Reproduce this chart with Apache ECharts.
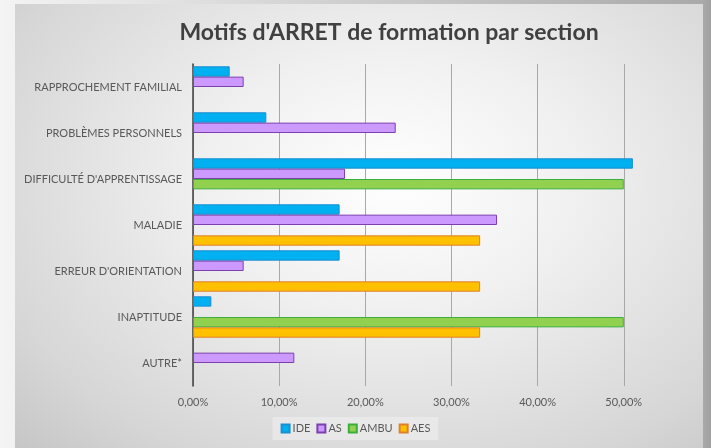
<!DOCTYPE html>
<html lang="fr">
<head>
    <meta charset="UTF-8">
    <title>Motifs d'ARRET de formation par section</title>
    <style>
        html, body { margin: 0; padding: 0; }
        body { width: 711px; height: 448px; position: relative; overflow: hidden;
               background: linear-gradient(to right, #f4f4f4 0px, #f2f2f2 15px, #a9a9a9 703px, #a0a0a0 711px); }
        #card { position: absolute; left: 15px; top: 4px; width: 688px; height: 444px;
                background: radial-gradient(ellipse at 55% 40%, #ffffff 0%, #f0f0f0 35%, #d6d6d6 80%, #c6c6c6 100%); }
        #main { position: absolute; left: 0; top: 0; width: 711px; height: 448px; }
    </style>
</head>
<body>
    <div id="card"></div>
    <div id="main"></div>

    <script src="https://cdn.jsdelivr.net/npm/echarts@6/dist/echarts.min.js"></script>
    <script type="text/javascript">
        var categories = ['RAPPROCHEMENT FAMILIAL', 'PROBLÈMES PERSONNELS', "DIFFICULTÉ D'APPRENTISSAGE",
            'MALADIE', "ERREUR D'ORIENTATION", 'INAPTITUDE', 'AUTRE*'];
        var ide  = [0.0426, 0.0851, 0.5106, 0.1702, 0.1702, 0.0213, null];
        var as   = [0.0588, 0.2353, 0.1765, 0.3529, 0.0588, null, 0.1176];
        var ambu = [null, null, 0.5, null, null, 0.5, null];
        var aes  = [null, null, null, 0.3333, 0.3333, 0.3333, null];

        var font = 'Lato, "Open Sans", sans-serif';

        function bar(name, data, fill, border) {
            return {
                name: name,
                type: 'bar',
                data: data,
                barGap: '0%',
                barCategoryGap: '10%',
                itemStyle: { color: fill, borderColor: border, borderWidth: 1 }
            };
        }

        var myChart = echarts.init(document.getElementById('main'));
        option = {
            backgroundColor: 'transparent',
            animation: false,
            title: {
                text: "Motifs d'ARRET de formation par section",
                left: 384,
                textAlign: 'center',
                top: 16,
                textStyle: { fontFamily: font, fontSize: 23, fontWeight: 'bold', color: '#404040' }
            },
            legend: {
                bottom: 8,
                left: 'center',
                icon: 'rect',
                itemWidth: 8,
                itemHeight: 8,
                itemGap: 6,
                padding: [6, 8],
                backgroundColor: 'rgba(240,240,240,0.55)',
                textStyle: { fontFamily: font, fontSize: 11, color: '#595959', padding: [0, 0, 0, -2] },
                data: ['IDE', 'AS', 'AMBU', 'AES']
            },
            grid: { left: 193, top: 64, width: 448, bottom: 62 },
            xAxis: {
                type: 'value',
                min: 0,
                max: 0.52,
                interval: 0.1,
                axisLine: { show: false },
                axisTick: { show: false },
                splitLine: { show: true, showMaxLine: false, lineStyle: { color: '#a8a8a8', width: 1 } },
                axisLabel: {
                    showMaxLabel: false,
                    margin: 11,
                    fontFamily: font, fontSize: 11, color: '#595959',
                    formatter: function (v) {
                        if (Math.abs(v * 10 - Math.round(v * 10)) > 1e-6) return '';
                        return (v * 100).toFixed(2).replace('.', ',') + '%';
                    }
                }
            },
            yAxis: {
                type: 'category',
                inverse: true,
                data: categories,
                axisLine: { show: true, lineStyle: { color: '#404040', width: 1.5 } },
                axisTick: { show: false },
                axisLabel: { margin: 11, fontFamily: font, fontSize: 11, color: '#595959' }
            },
            series: [
                bar('IDE', ide, '#00b0f0', '#1a8fd0'),
                bar('AS', as, '#cc99ff', '#7b3fb0'),
                bar('AMBU', ambu, '#92d050', '#3cae3c'),
                bar('AES', aes, '#ffc000', '#e0802a')
            ]
        };
        myChart.setOption(option);
    </script>
</body>
</html>
